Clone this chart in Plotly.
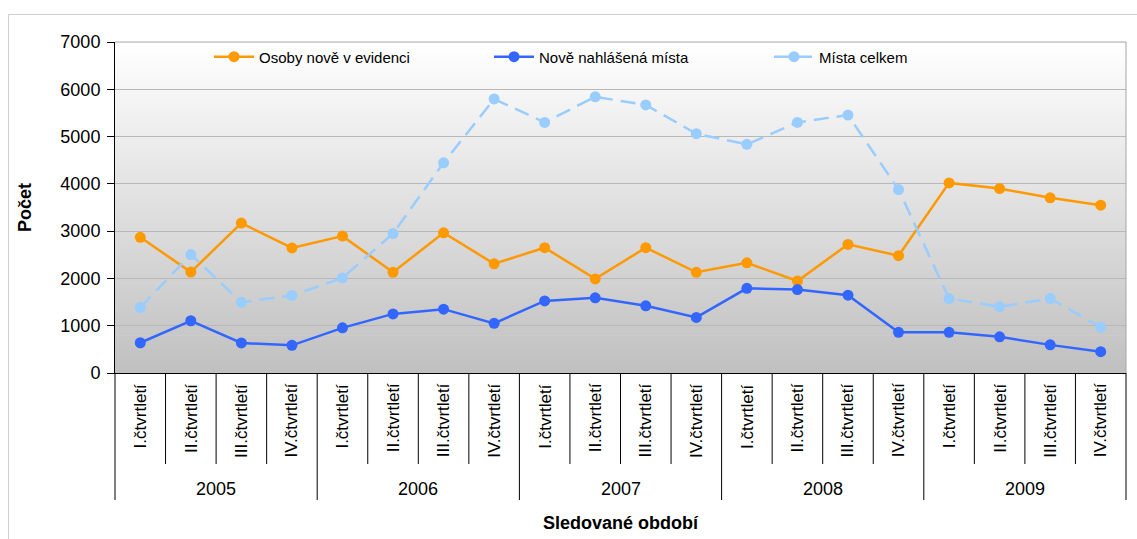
import plotly.graph_objects as go

years = ["2005", "2006", "2007", "2008", "2009"]
quarters = ["I.čtvrtletí", "II.čtvrtletí", "III.čtvrtletí", "IV.čtvrtletí"]

osoby = [2870, 2135, 3170, 2645, 2895, 2130, 2965, 2310, 2650, 1990,
         2650, 2130, 2330, 1945, 2720, 2480, 4020, 3900, 3705, 3550]
nova_mista = [640, 1105, 635, 585, 955, 1250, 1350, 1050, 1525, 1590,
              1420, 1175, 1790, 1765, 1645, 860, 860, 765, 595, 450]
mista_celkem = [1385, 2505, 1495, 1640, 2010, 2950, 4445, 5795, 5300, 5840,
                5670, 5060, 4835, 5300, 5455, 3880, 1575, 1400, 1575, 970]

series_names = ["Osoby nově v evidenci", "Nově nahlášená místa", "Místa celkem"]
y_ticks = [0, 1000, 2000, 3000, 4000, 5000, 6000, 7000]

cats = [f"{q} {y}" for y in years for q in quarters]

FONT = "Liberation Sans, Arial, sans-serif"

fig = go.Figure()
styles = [
    dict(color="#FF9900", dash="solid"),
    dict(color="#3366FF", dash="solid"),
    dict(color="#99CCFF", dash="15px,8px"),
]
for name, vals, st in zip(series_names, [osoby, nova_mista, mista_celkem], styles):
    fig.add_trace(go.Scatter(
        x=cats, y=vals, name=name, mode="lines+markers",
        line=dict(color=st["color"], width=2.5, dash=st["dash"]),
        marker=dict(color=st["color"], size=11),
        cliponaxis=False,
    ))

shapes = []
# gradient plot background
N = 70
for i in range(N):
    t = (i + 0.5) / N
    c = int(round(255 - (255 - 192) * t))
    shapes.append(dict(type="rect", xref="x domain", yref="y domain",
                       x0=0, x1=1, y0=1 - i / N, y1=1 - (i + 1) / N - 0.002,
                       fillcolor=f"rgb({c},{c},{c})", line=dict(width=0),
                       layer="below"))
# plot area border top/right
shapes.append(dict(type="line", xref="x domain", yref="y domain", x0=0, x1=1, y0=1, y1=1,
                   line=dict(color="#a6a6a6", width=1)))
shapes.append(dict(type="line", xref="x domain", yref="y domain", x0=1, x1=1, y0=0, y1=1,
                   line=dict(color="#a6a6a6", width=1)))
# outer chart border (right and bottom edges lie outside the page)
shapes.append(dict(type="rect", xref="paper", yref="paper",
                   x0=-0.1053, x1=1.05, y0=-0.65, y1=1.0831,
                   line=dict(color="#cfcfcf", width=1), fillcolor="rgba(0,0,0,0)",
                   layer="below"))
# category dividers below the axis
n = len(cats)
for i in range(n - 1):
    is_year = (i + 1) % len(quarters) == 0
    shapes.append(dict(type="line", xref="x", yref="paper",
                       x0=i + 0.5, x1=i + 0.5, y0=0, y1=-0.3837 if is_year else -0.275,
                       line=dict(color="black", width=1)))
for xd in (0, 1):
    shapes.append(dict(type="line", xref="x domain", yref="paper",
                       x0=xd, x1=xd, y0=0, y1=-0.3837,
                       line=dict(color="black", width=1)))

annotations = []
for i, c in enumerate(cats):
    annotations.append(dict(x=c, xref="x", y=-0.026, yref="paper", yanchor="top",
                            text=quarters[i % len(quarters)], textangle=-90,
                            showarrow=False, font=dict(family=FONT, size=17, color="black")))
for j, yr in enumerate(years):
    annotations.append(dict(x=j * len(quarters) + (len(quarters) - 1) / 2, xref="x",
                            y=-0.3505, yref="paper", yanchor="middle",
                            text=yr, showarrow=False,
                            font=dict(family=FONT, size=18, color="black")))
annotations.append(dict(x=0.5, xref="paper", y=-0.453, yref="paper", yanchor="middle",
                        text="<b>Sledované období</b>", showarrow=False,
                        font=dict(family=FONT, size=18, color="black")))
annotations.append(dict(x=-0.0895, xref="paper", y=0.5, yref="paper",
                        xanchor="center", yanchor="middle", textangle=-90,
                        text="<b>Počet</b>", showarrow=False,
                        font=dict(family=FONT, size=18, color="black")))

fig.update_layout(
    width=1137, height=539,
    margin=dict(l=115, r=11, t=42, b=166, pad=0),
    paper_bgcolor="white",
    plot_bgcolor="rgba(0,0,0,0)",
    font=dict(family=FONT, size=17, color="black"),
    shapes=shapes,
    annotations=annotations,
    showlegend=True,
    legend=dict(orientation="h", x=0.093, xanchor="left", y=0.955, yanchor="middle",
                bgcolor="rgba(0,0,0,0)", font=dict(family=FONT, size=15, color="black"),
                entrywidth=225, entrywidthmode="pixels", itemwidth=40),
    xaxis=dict(type="category", categoryorder="array", categoryarray=cats,
               range=[-0.5, n - 0.5], showticklabels=False, ticks="",
               showgrid=False, showline=True, linecolor="black", linewidth=1,
               zeroline=False, fixedrange=True),
    yaxis=dict(range=[0, 7000], tickvals=y_ticks, ticks="outside", ticklen=7,
               tickcolor="black", showline=True, linecolor="black", linewidth=1,
               showgrid=True, gridcolor="#b8b8b8", gridwidth=1, zeroline=False,
               tickfont=dict(family=FONT, size=18, color="black"),
               ticklabelstandoff=3),
)

fig.write_html("out.html")
